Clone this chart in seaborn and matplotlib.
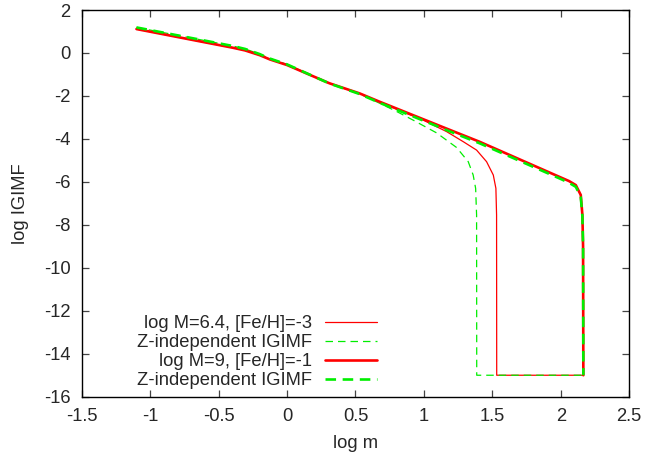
import numpy as np
import pandas as pd
import matplotlib
matplotlib.use("Agg")
import matplotlib.pyplot as plt
import seaborn as sns

sns.set_style("ticks")
plt.rcParams['font.family'] = ['Liberation Sans', 'DejaVu Sans']
plt.rcParams['axes.unicode_minus'] = False

# log m / log IGIMF
x_thin_red = [-1.1, -0.7, -0.4, -0.307, -0.2, -0.125, 0.0, 0.31, 0.53, 0.677, 0.85, 1.0,
              1.166, 1.288, 1.385, 1.458, 1.507, 1.526, 1.531, 1.532, 2.165]
y_thin_red = [1.115, 0.62, 0.25, 0.12, -0.10, -0.30, -0.56, -1.41, -1.88, -2.27, -2.75, -3.14,
              -3.66, -4.13, -4.52, -5.06, -5.68, -6.30, -7.54, -15.0, -15.0]

x_thin_green = [-1.1, -0.7, -0.4, -0.307, -0.2, -0.125, 0.0, 0.31, 0.53, 0.677, 0.8, 0.92,
                1.093, 1.239, 1.324, 1.36, 1.378, 1.385, 1.386, 2.165]
y_thin_green = [1.19, 0.70, 0.33, 0.19, -0.05, -0.26, -0.53, -1.41, -1.90, -2.34, -2.72, -3.12,
                -3.72, -4.40, -5.06, -5.68, -6.30, -7.54, -15.0, -15.0]

x_thick_red = [-1.1, -0.7, -0.4, -0.307, -0.2, -0.125, 0.0, 0.31, 0.53, 0.677, 1.166, 1.406,
               1.988, 2.06, 2.11, 2.146, 2.158, 2.163, 2.165]
y_thick_red = [1.115, 0.62, 0.25, 0.12, -0.10, -0.30, -0.56, -1.41, -1.88, -2.27, -3.52, -4.13,
               -5.76, -5.96, -6.15, -6.61, -7.54, -9.0, -15.0]

x_thick_green = [-1.1, -0.7, -0.4, -0.307, -0.2, -0.125, 0.0, 0.31, 0.53, 0.677, 1.166, 1.406,
                 1.988, 2.06, 2.11, 2.146, 2.158, 2.163, 2.165]
y_thick_green = [1.19, 0.70, 0.33, 0.19, -0.05, -0.26, -0.53, -1.42, -1.91, -2.32, -3.59, -4.20,
                 -5.83, -6.04, -6.23, -6.70, -7.60, -9.0, -15.0]

labels = ["log M=6.4, [Fe/H]=-3", "Z-independent IGIMF",
          "log M=9, [Fe/H]=-1", "Z-independent IGIMF"]

fig = plt.figure(figsize=(6.46, 4.58), dpi=100)
ax = fig.add_axes([0.1265, 0.1338, 0.8475, 0.8443])

series = [
    (x_thin_red, y_thin_red, labels[0], '#ff0000', 0.9, '-'),
    (x_thin_green, y_thin_green, labels[1], '#00ee00', 0.9, (0, (6, 4))),
    (x_thick_red, y_thick_red, labels[2], '#ff0000', 1.9, '-'),
    (x_thick_green, y_thick_green, labels[3], '#00ee00', 1.9, (0, (4, 2.5))),
]
for xs, ys, lab, col, lw, ls in series:
    df = pd.DataFrame({'logm': xs, 'igimf': ys})
    sns.lineplot(data=df, x='logm', y='igimf', sort=False, estimator=None,
                 color=col, linewidth=lw, linestyle=ls, label=lab, ax=ax)

fs = 13.2
ax.set_xlim(-1.5, 2.5)
ax.set_ylim(-16, 2)
ax.set_xticks(np.arange(-1.5, 2.51, 0.5))
ax.set_xticklabels(['-1.5', '-1', '-0.5', '0', '0.5', '1', '1.5', '2', '2.5'])
ax.set_yticks(np.arange(-16, 2.1, 2))
ax.tick_params(direction='in', top=True, right=True, length=5, width=0.9,
               color='#444444', labelsize=fs, pad=8)
for sp in ax.spines.values():
    sp.set_linewidth(1.0)
    sp.set_color('black')

ax.set_xlabel('log m', fontsize=fs, labelpad=7.5)
ax.set_ylabel('log IGIMF', fontsize=fs, labelpad=11)

ax.legend(loc='lower right', bbox_to_anchor=(0.539, 0.02), frameon=False,
          markerfirst=False, fontsize=fs, handlelength=2.85,
          handletextpad=0.7, labelspacing=0.1, borderpad=0, borderaxespad=0)

fig.savefig('out.png', dpi=100)
